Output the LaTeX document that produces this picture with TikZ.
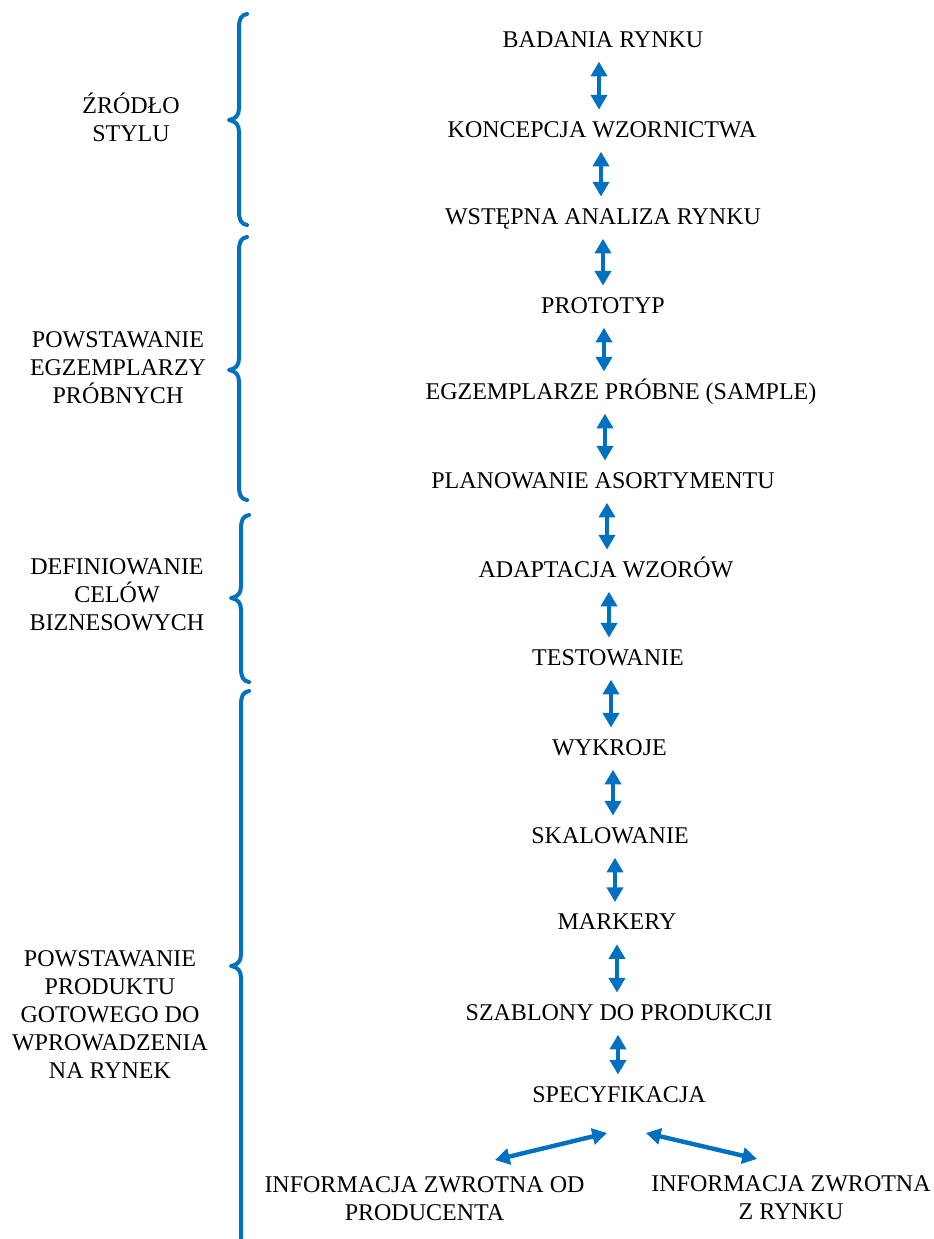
\documentclass[tikz,border=0pt]{standalone}
\usepackage{fontspec}
\setmainfont{Liberation Serif}
\usetikzlibrary{arrows.meta}
\definecolor{flowblue}{RGB}{0,112,192}

% curly brace opening to the right: #1 spine x, #2 top y, #3 tip y, #4 bottom y
\newcommand\sidebrace[4]{%
  \draw[brace] ({#1+8},#2) .. controls ({#1+2},{#2+1}) and (#1,{#2+5}) .. (#1,{#2+14})
    -- (#1,{#3-12}) .. controls (#1,{#3-5}) and ({#1-3},{#3-1}) .. ({#1-10},#3)
    .. controls ({#1-3},{#3+1}) and (#1,{#3+5}) .. (#1,{#3+12})
    -- (#1,{#4-14}) .. controls (#1,{#4-5}) and ({#1+2},{#4-1}) .. ({#1+8},#4);}

\begin{document}
\begin{tikzpicture}[x=0.75pt,y=-0.75pt,
  txt/.style={font=\fontsize{18}{21}\selectfont, inner sep=0pt},
  stage/.style={txt, text height=11.9pt, text depth=0pt, anchor=center},
  group/.style={txt, align=center, anchor=south},
  dbl/.style={draw=flowblue, line width=3.3pt,
    {Triangle[length=11pt,width=12pt]}-{Triangle[length=11pt,width=12pt]}},
  vlink/.style={dbl, shorten <=10.5pt, shorten >=8.8pt},
  brace/.style={draw=flowblue, line width=3pt, line cap=round, line join=round}]

\path[use as bounding box] (0,0) rectangle (934,1239);

% process stages
\node[stage] (s1)  at (603,39.5)    {BADANIA RYNKU};
\node[stage] (s2)  at (602,129.5)   {KONCEPCJA WZORNICTWA};
\node[stage] (s3)  at (603,216.5)   {WSTĘPNA ANALIZA RYNKU};
\node[stage] (s4)  at (603,305.5)   {PROTOTYP};
\node[stage] (s5)  at (621,391.5)   {EGZEMPLARZE PRÓBNE (SAMPLE)};
\node[stage] (s6)  at (603,480.5)   {PLANOWANIE ASORTYMENTU};
\node[stage] (s7)  at (606,569.5)   {ADAPTACJA WZORÓW};
\node[stage] (s8)  at (608,657.5)   {TESTOWANIE};
\node[stage] (s9)  at (609.5,747.5) {WYKROJE};
\node[stage] (s10) at (610,835.5)   {SKALOWANIE};
\node[stage] (s11) at (617,922)     {MARKERY};
\node[stage] (s12) at (619,1012.5)  {SZABLONY DO PRODUKCJI};
\node[stage] (s13) at (619,1094.5)  {SPECYFIKACJA};

% feedback sources
\node[group] (fbp) at (424.5,1221) {INFORMACJA ZWROTNA OD\\PRODUCENTA};
\node[group] (fbm) at (791,1220)   {INFORMACJA ZWROTNA\\Z RYNKU};

% phase labels
\node[group] (p1) at (131,141.5)  {ŹRÓDŁO\\STYLU};
\node[group] (p2) at (118,404)    {POWSTAWANIE\\EGZEMPLARZY\\PRÓBNYCH};
\node[group] (p3) at (117,631)    {DEFINIOWANIE\\CELÓW\\BIZNESOWYCH};
\node[group] (p4) at (110,1078.5) {POWSTAWANIE\\PRODUKTU\\GOTOWEGO DO\\WPROWADZENIA\\NA RYNEK};

% two-way links between consecutive stages
\draw[vlink] ([xshift=-3pt]s1.south)     -- ([xshift=-2.25pt]s2.north);
\draw[vlink] ([xshift=-0.75pt]s2.south)  -- ([xshift=-1.5pt]s3.north);
\draw[vlink] (s3.south)                  -- (s4.north);
\draw[vlink] ([xshift=0.75pt]s4.south)   -- ([xshift=-12.75pt]s5.north);
\draw[vlink] ([xshift=-12pt]s5.south)    -- ([xshift=1.5pt]s6.north);
\draw[vlink] ([xshift=3pt]s6.south)      -- ([xshift=0.75pt]s7.north);
\draw[vlink] ([xshift=2.25pt]s7.south)   -- ([xshift=0.75pt]s8.north);
\draw[vlink] ([xshift=2.25pt]s8.south)   -- ([xshift=1.125pt]s9.north);
\draw[vlink] ([xshift=2.625pt]s9.south)  -- ([xshift=2.25pt]s10.north);
\draw[vlink] ([xshift=3.75pt]s10.south)  -- ([xshift=-1.5pt]s11.north);
\draw[vlink] (s11.south)                 -- ([xshift=-1.5pt]s12.north);
\draw[vlink] ([xshift=-0.75pt]s12.south) -- ([xshift=-0.75pt]s13.north);

% feedback links under the specification
\coordinate (specL) at (607,1133);
\coordinate (specR) at (646,1133);
\coordinate (fbpT)  at (495,1160);
\coordinate (fbmT)  at (757,1159);
\draw[dbl] (fbpT) -- (specL);
\draw[dbl] (specR) -- (fbmT);

% phase braces
\begin{scope}
  \clip (0,0) rectangle (934,1239);
  \sidebrace{239}{14}{120}{225}
  \sidebrace{239}{237}{370}{500}
  \sidebrace{241}{515}{598}{682}
  \sidebrace{241}{691}{966}{1262}
\end{scope}
\end{tikzpicture}
\end{document}
